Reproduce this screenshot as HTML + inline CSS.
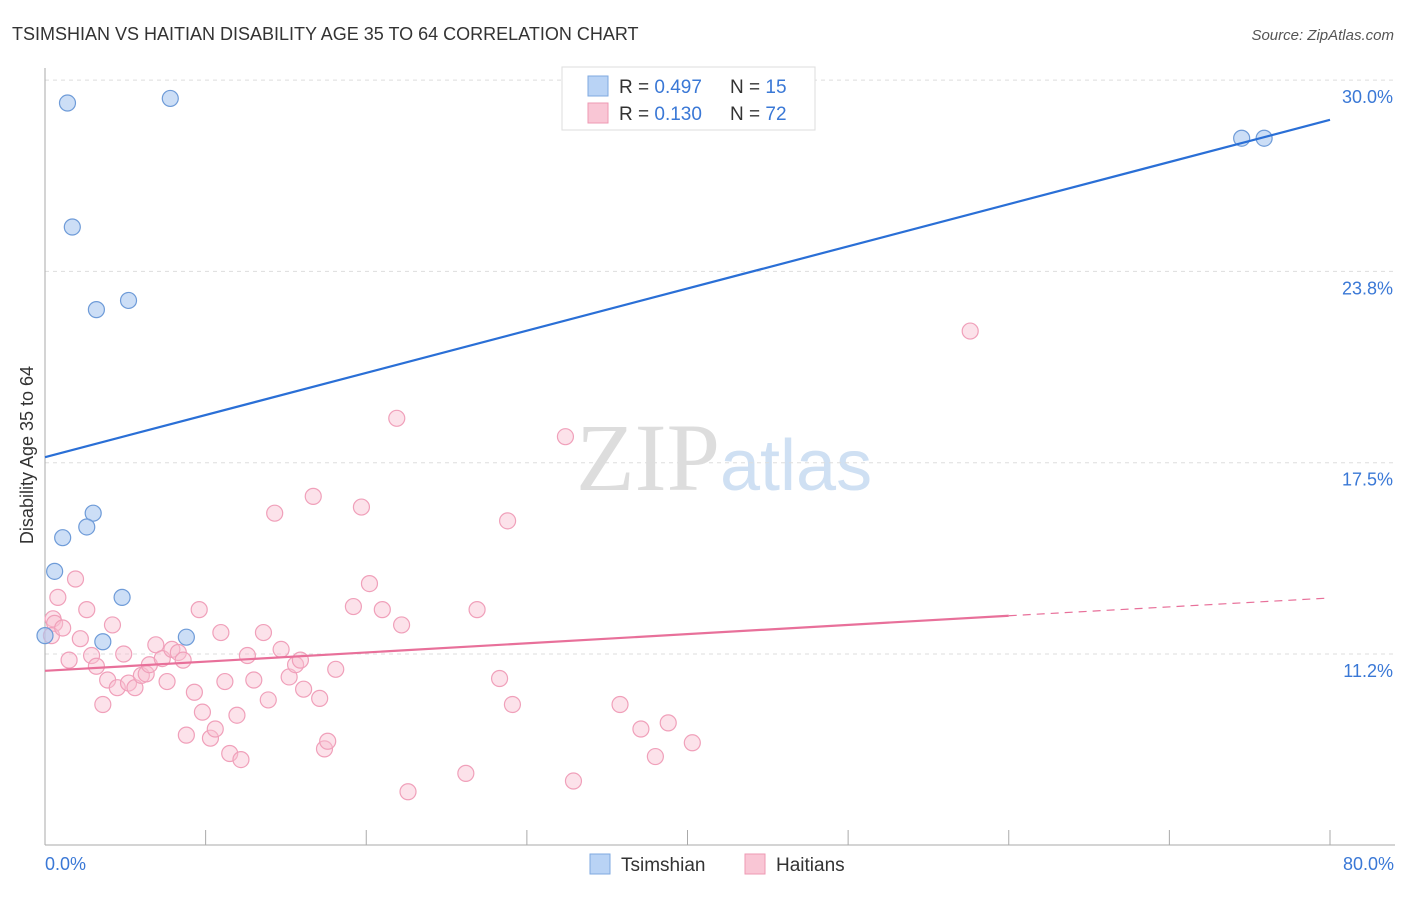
<!DOCTYPE html>
<html><head><meta charset="utf-8"><style>
body{margin:0;background:#fff;font-family:"Liberation Sans",sans-serif;}
</style></head><body>
<svg width="1406" height="892" xmlns="http://www.w3.org/2000/svg" style="font-family:'Liberation Sans',sans-serif">
<text x="12" y="40" font-size="18" fill="#333">TSIMSHIAN VS HAITIAN DISABILITY AGE 35 TO 64 CORRELATION CHART</text>
<text x="1394" y="40" font-size="15" fill="#555" font-style="italic" text-anchor="end">Source: ZipAtlas.com</text>
<text x="720" y="490" font-size="96" fill="#ddd" text-anchor="end" font-family="Liberation Serif">ZIP</text>
<text x="720" y="490" font-size="72" fill="#cfe0f3">atlas</text>
<g id="grid"></g>
<line x1="45" y1="68" x2="45" y2="845" stroke="#aaa"/>
<line x1="45" y1="845" x2="1395" y2="845" stroke="#aaa"/>
<text transform="translate(33,455) rotate(-90)" font-size="18" fill="#333" text-anchor="middle">Disability Age 35 to 64</text>
<text x="45" y="870" font-size="18" fill="#3a78d6">0.0%</text>
<text x="1394" y="870" font-size="18" fill="#3a78d6" text-anchor="end">80.0%</text>
<g id="marks"></g>
<g>
<rect x="562" y="67" width="253" height="63" fill="#fff" stroke="#ddd"/>
<rect x="588" y="76" width="20" height="20" fill="#b9d3f5" stroke="#7fa9e0"/>
<rect x="588" y="103" width="20" height="20" fill="#f9c6d5" stroke="#ee99b3"/>
<text x="619" y="93" font-size="19" fill="#333">R = <tspan fill="#3a78d6">0.497</tspan></text>
<text x="730" y="93" font-size="19" fill="#333">N = <tspan fill="#3a78d6">15</tspan></text>
<text x="619" y="120" font-size="19" fill="#333">R = <tspan fill="#3a78d6"> 0.130</tspan></text>
<text x="730" y="120" font-size="19" fill="#333">N = <tspan fill="#3a78d6">72</tspan></text>
</g>
<g>
<rect x="590" y="854" width="20" height="20" fill="#b9d3f5" stroke="#7fa9e0"/>
<text x="621" y="871" font-size="19" fill="#333">Tsimshian</text>
<rect x="745" y="854" width="20" height="20" fill="#f9c6d5" stroke="#ee99b3"/>
<text x="776" y="871" font-size="19" fill="#333">Haitians</text>
</g>
</svg>
<script>
const yTicks=[11.25,17.5,23.75,30.0];
const yTickLabels=["11.2%","17.5%","23.8%","30.0%"];
const xTicks=[0,10,20,30,40,50,60,70,80];
const tsimX=[0,1.4,7.8,1.7,3.2,5.2,74.5,75.9,3.0,2.6,1.1,0.6,4.8,3.6,8.8];
const tsimY=[11.85,29.25,29.4,25.2,22.5,22.8,28.1,28.1,15.85,15.4,15.05,13.95,13.1,11.65,11.8];
const haitX=[0.5,0.6,0.4,0.8,1.1,1.5,1.9,2.2,2.6,2.9,3.2,3.6,3.9,4.2,4.5,4.9,5.2,5.6,6.0,6.3,6.5,6.9,7.3,7.6,7.9,8.3,8.6,8.8,9.3,9.6,9.8,10.3,10.6,10.95,11.2,11.5,11.95,12.2,12.6,13.0,13.6,13.9,14.3,14.7,15.2,15.6,15.9,16.1,16.7,17.1,17.4,17.6,18.1,19.2,19.7,20.2,21.0,21.9,22.2,22.6,26.2,26.9,28.3,28.8,29.1,32.4,32.9,35.8,37.1,38.0,38.8,40.3,57.6];
const haitY=[12.4,12.25,11.85,13.1,12.1,11.05,13.7,11.75,12.7,11.2,10.85,9.6,10.4,12.2,10.15,11.25,10.3,10.15,10.55,10.6,10.9,11.55,11.1,10.35,11.4,11.3,11.05,8.6,10.0,12.7,9.35,8.5,8.8,11.95,10.35,8.0,9.25,7.8,11.2,10.4,11.95,9.75,15.85,11.4,10.5,10.9,11.05,10.1,16.4,9.8,8.15,8.4,10.75,12.8,16.05,13.55,12.7,18.95,12.2,6.75,7.35,12.7,10.45,15.6,9.6,18.35,7.1,9.6,8.8,7.9,9.0,8.35,21.8];
const blueLine=[[0,17.68],[80,28.7]];
const pinkLine=[[0,10.7],[60,12.5]];
const pinkDash=[[60,12.5],[80,13.08]];
const NS="http://www.w3.org/2000/svg";
const xs=v=>45+v/80*1285;
const ys=v=>654-(v-11.25)*30.61;
const grid=document.getElementById('grid'),marks=document.getElementById('marks');
function mk(t,a,p){const e=document.createElementNS(NS,t);for(const k in a)e.setAttribute(k,a[k]);p.appendChild(e);return e;}
yTicks.forEach((v,i)=>{
 const l=mk('line',{x1:45,x2:1395,y1:ys(v),y2:ys(v),stroke:'#ddd','stroke-dasharray':'4,4'},grid);
 
 
 const t=mk('text',{x:1393,y:ys(v)+23,'font-size':18,fill:'#3a78d6','text-anchor':'end'},grid);
 t.textContent=yTickLabels[i];
 
 
});
xTicks.forEach(v=>{
 const l=mk('line',{x1:xs(v),x2:xs(v),y1:830,y2:845,stroke:'#aaa'},grid);
 
 
});
function line(pts,col,dash,name){
 const l=mk('line',{x1:xs(pts[0][0]),y1:ys(pts[0][1]),x2:xs(pts[1][0]),y2:ys(pts[1][1]),stroke:col,'stroke-width':dash?1.2:2.2},marks);
 if(dash)l.setAttribute('stroke-dasharray','8,6');
 
 
}
haitX.forEach((x,i)=>{
 const c=mk('circle',{cx:xs(x),cy:ys(haitY[i]),r:8,fill:'rgba(249,190,208,0.45)',stroke:'#f0a0ba','stroke-width':1.2},marks);
 
 
});
tsimX.forEach((x,i)=>{
 const c=mk('circle',{cx:xs(x),cy:ys(tsimY[i]),r:8,fill:'rgba(170,200,240,0.6)',stroke:'#6e9bd8','stroke-width':1.2},marks);
 
 
});
line(blueLine,'#2a6fd6',false,'tsimshian-trend-line');
line(pinkLine,'#e8709a',false,'haitian-trend-line');
line(pinkDash,'#e8709a',true,'haitian-trend-extension');
</script>
</body></html>
